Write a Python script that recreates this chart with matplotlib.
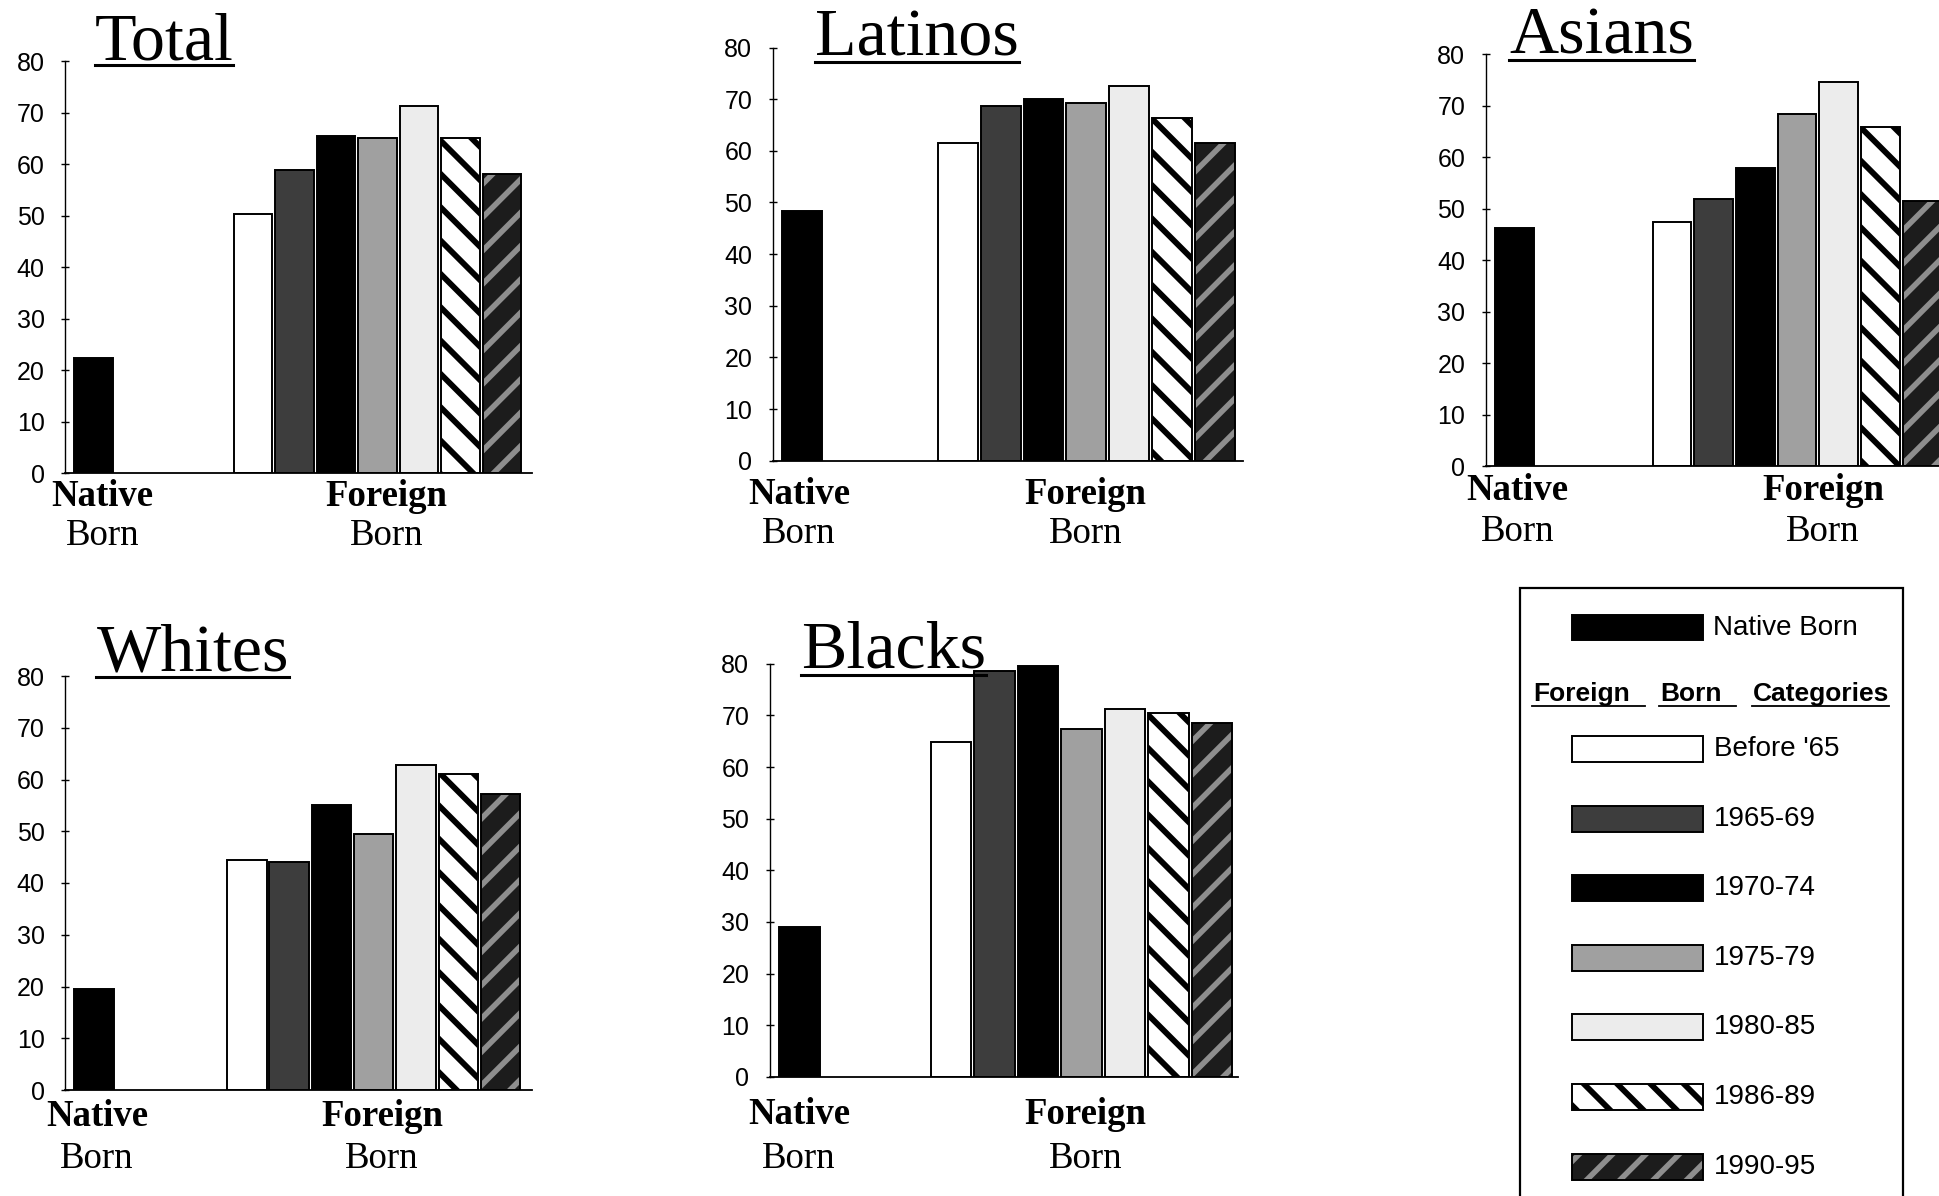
import matplotlib
matplotlib.use("Agg")
from matplotlib import pyplot as plt
from matplotlib.patches import Rectangle
from matplotlib.lines import Line2D

# data (percent)
panels = ['Total', 'Latinos', 'Asians', 'Whites', 'Blacks']
native_born = [22.4, 48.3, 46.3, 19.5, 29.1]
cohorts = ["Before '65", '1965-69', '1970-74', '1975-79', '1980-85', '1986-89', '1990-95']
total_fb = [50.3, 58.9, 65.6, 65.2, 71.3, 65.2, 58.2]
latinos_fb = [61.5, 68.7, 70.1, 69.2, 72.5, 66.4, 61.5]
asians_fb = [47.4, 51.8, 57.9, 68.4, 74.6, 65.8, 51.4]
whites_fb = [44.4, 44.1, 55.1, 49.5, 62.8, 61.0, 57.2]
blacks_fb = [64.9, 78.6, 79.5, 67.3, 71.2, 70.5, 68.6]
foreign_born = [total_fb, latinos_fb, asians_fb, whites_fb, blacks_fb]
yticks = [0, 10, 20, 30, 40, 50, 60, 70, 80]

W, H = 1940, 1196
SERIF = 'Liberation Serif'
SANS = 'Liberation Sans'

# fill styles: (face, hatch, hatch colour, hatch linewidth)
native_style = ('black', None, None, 0)
cohort_styles = [
    ('white', None, None, 0),
    ('#3d3d3d', None, None, 0),
    ('black', None, None, 0),
    ('#a0a0a0', None, None, 0),
    ('#ececec', None, None, 0),
    ('white', '\\', 'black', 4.2),
    ('#1c1c1c', '/', '#8e8e8e', 4.0),
]

# panel boxes in pixels: y-axis x, x-axis end, y of 80, y of 0,
# px per bar, gap (in bars) between native bar and first foreign bar
boxes = [
    (65.4, 532, 61.4, 473.2, 41.5, 3.84),
    (773.2, 1243, 47.5, 460.7, 42.9, 3.62),
    (1486, 1960, 54.3, 466, 41.7, 3.78),
    (65.4, 532, 676, 1090, 42.3, 3.61),
    (770, 1238, 663.8, 1076.9, 43.5, 3.48),
]
# title left x / baseline y / underline y
title_pos = [(94.6, 59, 64.5), (815, 55.4, 62), (1509, 53.6, 60),
             (96.4, 670.3, 677), (800.7, 667.6, 674.5)]
# native label x, first-line y, foreign label x, "Born" y
label_pos = [(102.5, 497, 386.4, 536), (799, 494.6, 1085.7, 534),
             (1517.5, 491, 1822.9, 532), (97.1, 1117, 382, 1158.6),
             (799, 1115, 1085.7, 1158.6)]

native_x = 0.0
bar_w = 0.93
x_left = -0.68


def px(x, y):
    return x / W, 1 - y / H


def styled_bar(ax, x, h, style):
    face, hatch, hcol, hlw = style
    if hatch:
        with plt.rc_context({'hatch.linewidth': hlw}):
            bars = ax.bar(x, h, bar_w, color=face, edgecolor=hcol,
                          hatch=hatch, linewidth=0)
        for b in bars:
            if hasattr(b, 'set_hatch_linewidth'):
                b.set_hatch_linewidth(hlw)
        ax.bar(x, h, bar_w, facecolor='none', edgecolor='black', linewidth=1.4)
    else:
        ax.bar(x, h, bar_w, color=face, edgecolor='black', linewidth=1.4)


def styled_rect(fig, x0, y0, x1, y1, style):
    face, hatch, hcol, hlw = style
    fx, fy = px(x0, y1)
    w, h = (x1 - x0) / W, (y1 - y0) / H
    if hatch:
        with plt.rc_context({'hatch.linewidth': hlw}):
            r = Rectangle((fx, fy), w, h, transform=fig.transFigure,
                          facecolor=face, edgecolor=hcol, hatch=hatch, linewidth=0)
        if hasattr(r, 'set_hatch_linewidth'):
            r.set_hatch_linewidth(hlw)
        fig.patches.append(r)
    else:
        fig.patches.append(Rectangle((fx, fy), w, h, transform=fig.transFigure,
                                     facecolor=face, edgecolor='none'))
    fig.patches.append(Rectangle((fx, fy), w, h, transform=fig.transFigure,
                                 facecolor='none', edgecolor='black', linewidth=1.4))


fig = plt.figure(figsize=(W / 100, H / 100), dpi=100)
fig.patch.set_facecolor('white')

titles = []
for k, name in enumerate(panels):
    left, right, top, bottom, step, gap = boxes[k]
    fb_x = [gap + i for i in range(len(cohorts))]
    ax = fig.add_axes([left / W, 1 - bottom / H, (right - left) / W, (bottom - top) / H])
    styled_bar(ax, [native_x], [native_born[k]], native_style)
    for i in range(len(cohorts)):
        styled_bar(ax, [fb_x[i]], [foreign_born[k][i]], cohort_styles[i])
    ax.set_xlim(x_left, x_left + (right - left) / step)
    ax.set_ylim(0, 80)
    ax.set_yticks(yticks)
    ax.set_yticklabels([str(t) for t in yticks], fontfamily=SANS, fontsize=18)
    ax.set_xticks([])
    ax.tick_params(axis='y', direction='inout', length=6, width=1, pad=12)
    for s in ['top', 'right']:
        ax.spines[s].set_visible(False)
    ax.spines['left'].set_linewidth(1.0)
    ax.spines['bottom'].set_linewidth(1.3)
    ax.patch.set_alpha(0)

    tx, ty, uy = title_pos[k]
    t = fig.text(*px(tx, ty), name, fontfamily=SERIF, fontsize=49,
                 ha='left', va='baseline')
    titles.append((t, uy))

    nx, ny, fx, by = label_pos[k]
    for xx, word in [(nx, 'Native'), (fx, 'Foreign')]:
        fig.text(*px(xx, ny), word, fontfamily=SERIF, fontweight='bold',
                 fontsize=26.5, ha='center', va='center')
        fig.text(*px(xx, by), 'Born', fontfamily=SERIF, fontsize=26.5,
                 ha='center', va='center')

# legend box
fig.patches.append(Rectangle(px(1520.5, 1215), (1903 - 1520.5) / W, (1215 - 588) / H,
                             transform=fig.transFigure, fill=False,
                             edgecolor='black', linewidth=1.6))
styled_rect(fig, 1572.5, 615, 1703.5, 640, native_style)
fig.text(*px(1713.5, 628), 'Native Born', fontfamily=SANS, fontsize=20,
         ha='left', va='center')

heading = []
for word, x in [('Foreign', 1533), ('Born', 1660), ('Categories', 1753)]:
    heading.append(fig.text(*px(x, 701), word, fontfamily=SANS, fontweight='bold',
                            fontsize=19, ha='left', va='baseline'))

for i, name in enumerate(cohorts):
    yc = 749 + 69.6 * i
    styled_rect(fig, 1572.5, yc - 13, 1703.5, yc + 13, cohort_styles[i])
    fig.text(*px(1714, yc), name, fontfamily=SANS, fontsize=20,
             ha='left', va='center')

# underlines
fig.canvas.draw()
r = fig.canvas.get_renderer()
for t, uy in titles:
    bb = t.get_window_extent(r)
    fig.lines.append(Line2D([bb.x0 / W, bb.x1 / W], [1 - uy / H] * 2,
                            transform=fig.transFigure, color='black', linewidth=2.2))
for t, extra in zip(heading, [15, 15, 0]):
    bb = t.get_window_extent(r)
    fig.lines.append(Line2D([(bb.x0 - 1) / W, (bb.x1 + extra) / W], [1 - 706 / H] * 2,
                            transform=fig.transFigure, color='black', linewidth=1.3))

fig.savefig('out.png', dpi=100)
